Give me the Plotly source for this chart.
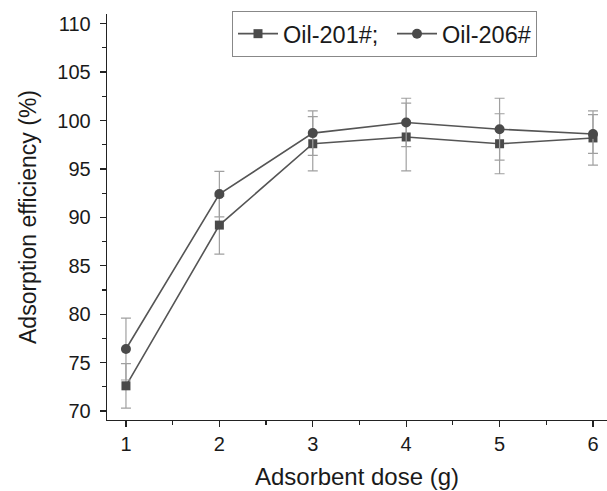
import plotly.graph_objects as go

dose = [1, 2, 3, 4, 5, 6]
oil201 = [72.6, 89.2, 97.6, 98.3, 97.6, 98.2]
oil201_err = [2.3, 3.0, 2.8, 3.5, 3.1, 2.8]
oil206 = [76.4, 92.4, 98.7, 99.8, 99.1, 98.6]
oil206_err = [3.2, 2.35, 2.3, 2.5, 3.2, 2.0]

line_c = "#555555"
mark_c = "#4a4a4a"
err_c = "#a0a0a0"
axis_c = "#222222"
font = "Liberation Sans, Arial, sans-serif"

fig = go.Figure()
fig.add_trace(go.Scatter(
    x=dose, y=oil201, mode="lines+markers", name="Oil-201#;",
    line=dict(color=line_c, width=1.6),
    marker=dict(symbol="square", size=9, color=mark_c),
    error_y=dict(type="data", array=oil201_err, color=err_c, thickness=1.2, width=5),
    legendwidth=104,
))
fig.add_trace(go.Scatter(
    x=dose, y=oil206, mode="lines+markers", name="Oil-206#",
    line=dict(color=line_c, width=1.6),
    marker=dict(symbol="circle", size=10, color=mark_c),
    error_y=dict(type="data", array=oil206_err, color=err_c, thickness=1.2, width=5),
))

fig.update_layout(
    width=607, height=491,
    margin=dict(l=107, r=0, t=14, b=71),
    plot_bgcolor="white", paper_bgcolor="white",
    font=dict(family=font, size=20, color="#1a1a1a"),
    showlegend=True,
    legend=dict(
        orientation="h", x=0.25, y=0.951, xanchor="left", yanchor="middle",
        bordercolor="#888888", borderwidth=1, bgcolor="white",
        font=dict(size=23.5, family=font, color="#1a1a1a"),
        itemwidth=40, tracegroupgap=0,
    ),
    xaxis=dict(
        range=[0.797, 6.15], tickvals=dose, ticktext=[str(d) for d in dose],
        showgrid=False, zeroline=False, showline=True, linecolor=axis_c, linewidth=1.3,
        ticks="outside", ticklen=6, tickwidth=1.3, tickcolor=axis_c,
        minor=dict(dtick=0.5, tick0=0.5, ticks="outside", ticklen=4, tickwidth=1.2, tickcolor=axis_c),
        title=dict(text="Adsorbent dose (g)", font=dict(size=24), standoff=14),
        tickfont=dict(size=20),
    ),
    yaxis=dict(
        range=[69.07, 111.0], tickvals=[70, 75, 80, 85, 90, 95, 100, 105, 110],
        showgrid=False, zeroline=False, showline=True, linecolor=axis_c, linewidth=1.3,
        ticks="outside", ticklen=6, tickwidth=1.3, tickcolor=axis_c,
        ticklabelstandoff=5,
        minor=dict(dtick=2.5, tick0=2.5, ticks="outside", ticklen=4, tickwidth=1.2, tickcolor=axis_c),
        title=dict(text="Adsorption efficiency (%)", font=dict(size=23), standoff=14),
        tickfont=dict(size=20),
    ),
)

fig.write_html("out.html", post_script="document.body.style.margin='0px';",
               config={"displayModeBar": False, "staticPlot": True})
